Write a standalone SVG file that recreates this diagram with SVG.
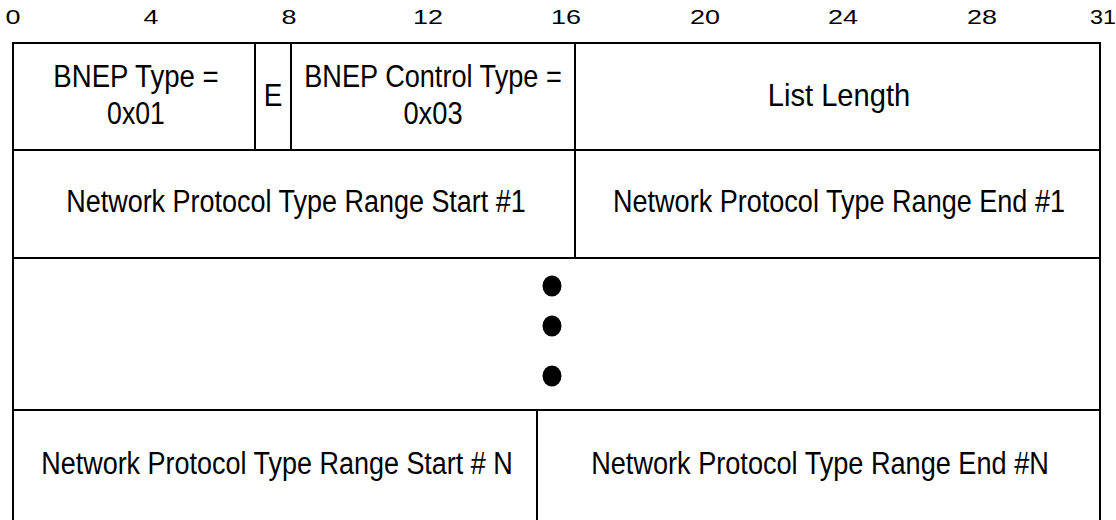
<svg xmlns="http://www.w3.org/2000/svg" width="1116" height="520" viewBox="0 0 1116 520">
<style>
.ln{stroke:#000;stroke-width:2;fill:none}
.t{font-family:"Liberation Sans",Arial,sans-serif;font-size:31px;fill:#000;text-anchor:middle}
.ax{font-family:"Liberation Sans",Arial,sans-serif;font-size:20.5px;fill:#000;text-anchor:middle}
</style>
<rect width="1116" height="520" fill="#fff"/>
<g id="axis">
<text class="ax" x="13" y="24" textLength="15" lengthAdjust="spacingAndGlyphs">0</text>
<text class="ax" x="151" y="24" textLength="15" lengthAdjust="spacingAndGlyphs">4</text>
<text class="ax" x="289" y="24" textLength="15" lengthAdjust="spacingAndGlyphs">8</text>
<text class="ax" x="428" y="24" textLength="30" lengthAdjust="spacingAndGlyphs">12</text>
<text class="ax" x="566" y="24" textLength="30" lengthAdjust="spacingAndGlyphs">16</text>
<text class="ax" x="705" y="24" textLength="30" lengthAdjust="spacingAndGlyphs">20</text>
<text class="ax" x="843" y="24" textLength="30" lengthAdjust="spacingAndGlyphs">24</text>
<text class="ax" x="982" y="24" textLength="30" lengthAdjust="spacingAndGlyphs">28</text>
<text class="ax" x="1103" y="24" textLength="26" lengthAdjust="spacingAndGlyphs">31</text>
</g>
<g id="grid">
<path class="ln" d="M13,521 V43 H1100 V521"/>
<path class="ln" d="M13,150 H1100 M13,258 H1100 M13,410 H1100"/>
<path class="ln" d="M255,43 V150 M291,43 V150 M575,43 V258 M537,410 V521"/>
</g>
<g id="bnep-type"><text class="t" transform="translate(136,87) scale(0.89,1)">BNEP Type =</text><text class="t" transform="translate(136,124) scale(0.86,1)">0x01</text></g>
<g id="e-bit"><text class="t" transform="translate(273,106) scale(0.9,1)">E</text></g>
<g id="control-type"><text class="t" transform="translate(433,87) scale(0.875,1)">BNEP Control Type =</text><text class="t" transform="translate(433,124) scale(0.88,1)">0x03</text></g>
<g id="list-length"><text class="t" transform="translate(839,106) scale(0.94,1)">List Length</text></g>
<g id="start-1"><text class="t" transform="translate(296,212) scale(0.87,1)">Network Protocol Type Range Start #1</text></g>
<g id="end-1"><text class="t" transform="translate(839,212) scale(0.873,1)">Network Protocol Type Range End #1</text></g>
<g id="ellipsis">
<ellipse cx="552" cy="286" rx="9.5" ry="10.5"/>
<ellipse cx="552" cy="326" rx="9.5" ry="10.5"/>
<ellipse cx="552" cy="376" rx="9.5" ry="10.5"/>
</g>
<g id="start-n"><text class="t" transform="translate(277,474) scale(0.87,1)">Network Protocol Type Range Start # N</text></g>
<g id="end-n"><text class="t" transform="translate(820,474) scale(0.875,1)">Network Protocol Type Range End #N</text></g>
</svg>
